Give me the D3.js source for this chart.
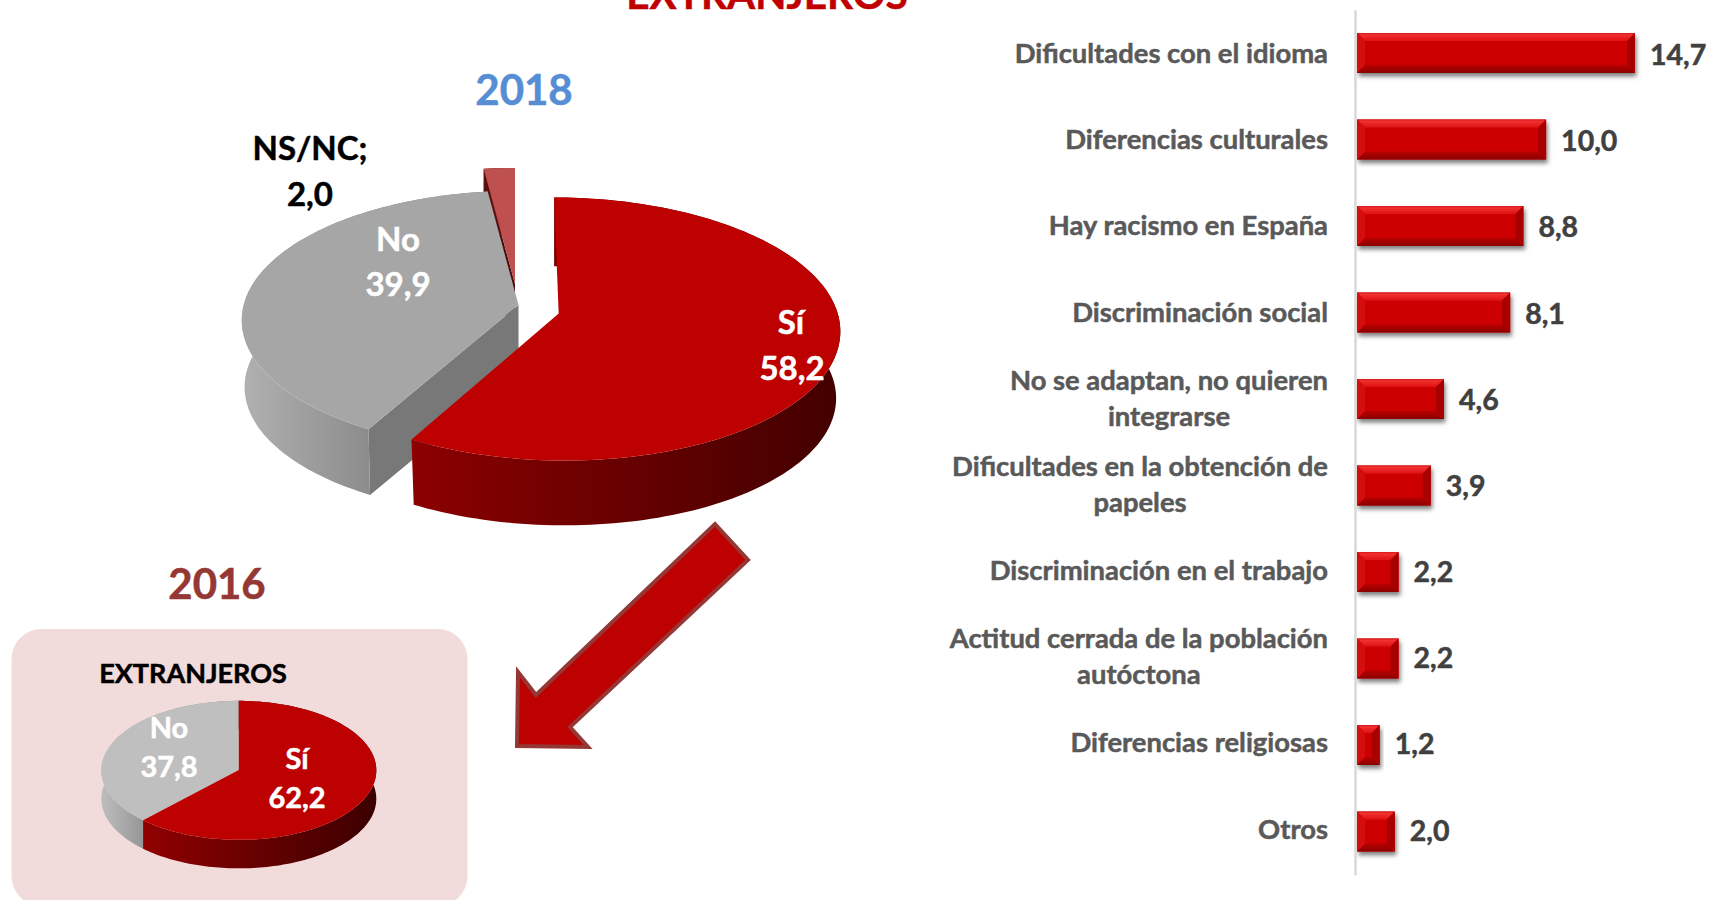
<!DOCTYPE html>
<html>
<head>
<meta charset="utf-8">
<script src="https://d3js.org/d3.v7.min.js"></script>
<style>
html, body { margin: 0; padding: 0; background: #fff; overflow: hidden; }
svg { display: block; }
text { font-family: Lato, "Open Sans", sans-serif; font-weight: 700; stroke-width: 0.5px; }
</style>
</head>
<body>
<div id="chart"></div>
<script>
// data
const pieLabels2018 = ["Sí", "No", "NS/NC"];
const pieValues2018 = [58.2, 39.9, 2.0];
const pieLabels2016 = ["Sí", "No"];
const pieValues2016 = [62.2, 37.8];
const barCategories = [
    ["Dificultades con el idioma"],
    ["Diferencias culturales"],
    ["Hay racismo en España"],
    ["Discriminación social"],
    ["No se adaptan, no quieren", "integrarse"],
    ["Dificultades en la obtención de", "papeles"],
    ["Discriminación en el trabajo"],
    ["Actitud cerrada de la población", "autóctona"],
    ["Diferencias religiosas"],
    ["Otros"]
];
const barValues = [14.7, 10.0, 8.8, 8.1, 4.6, 3.9, 2.2, 2.2, 1.2, 2.0];

const fmt = v => v.toFixed(1).replace(".", ",");

const svg = d3.select("#chart").append("svg")
    .attr("width", 1711)
    .attr("height", 900);
const defs = svg.append("defs");

function sideGradient(id, x0, x1, c0, c1) {
    const g = defs.append("linearGradient").attr("id", id)
        .attr("gradientUnits", "userSpaceOnUse")
        .attr("x1", x0).attr("x2", x1).attr("y1", 0).attr("y2", 0);
    g.append("stop").attr("offset", 0).attr("stop-color", c0);
    g.append("stop").attr("offset", 1).attr("stop-color", c1);
}

// tilted disc, k is the perspective squeeze of the far side
function projector(p, cx, cy, scale, skew) {
    return a => {
        const w = 1 + p.k * Math.cos(a);
        const dy = -scale * p.ry * Math.cos(a) / w;
        return [cx + scale * p.rx * Math.sin(a) / w + skew * dy, cy + dy];
    };
}

function arcPoints(project, a0, a1) {
    const n = Math.max(2, Math.ceil(Math.abs(a1 - a0) * 40));
    return d3.range(n + 1).map(i => project(a0 + (a1 - a0) * i / n));
}

function drawPie(g, slices, p) {
    const line = d3.line();
    // back to front
    slices.slice().reverse().forEach(s => {
        const skew = s.skew || 0;
        const topP = projector(p, s.cx, s.cy, s.scale || 1, skew);
        const botP = projector(p, s.cx, s.cy + p.depth, s.botScale || 1, skew);
        const rim = arcPoints(topP, s.a0, s.a1);
        const botRim = arcPoints(botP, s.a1, s.a0);
        // cut face towards the viewer
        if (s.cut) {
            g.append("path")
                .attr("d", line([[s.cx, s.cy], topP(s.a0), botP(s.a0), [s.cx, s.cy + p.depth]]) + "Z")
                .attr("fill", s.cut);
        }
        g.append("path")
            .attr("d", line(rim.concat(botRim)) + "Z")
            .attr("fill", s.side);
        g.append("path")
            .attr("d", line([[s.cx, s.cy]].concat(rim)) + "Z")
            .attr("fill", s.top);
    });
}

const pie = d3.pie().sort(null).startAngle(0).endAngle(2 * Math.PI);

// 2018 pie
const arcs2018 = pie(pieValues2018);
sideGradient("sideRed", 410, 830, "#8c0000", "#440000");
sideGradient("sideGrey", 245, 370, "#b0b0b0", "#8c8c8c");
sideGradient("sideRose", 486, 516, "#5a1010", "#5a1010");
const look2018 = [
    { cx: 558.7, cy: 313.5, top: "#bd0000", side: "url(#sideRed)", skew: 0.04, botScale: 0.985 },
    { cx: 518.5, cy: 305, top: "#a6a6a6", side: "url(#sideGrey)", cut: "#787878", scale: 0.985, botScale: 0.975 },
    { cx: 515, cy: 284, top: "#be5050", side: "url(#sideRose)", cut: "#4a0c0c" }
];
drawPie(svg.append("g"), arcs2018.map((d, i) => Object.assign({ a0: d.startAngle, a1: d.endAngle }, look2018[i])),
    { rx: 279, ry: 129.7, k: 0.118, depth: 67 });

// 2016 panel and pie
svg.append("rect")
    .attr("x", 11.5).attr("y", 629)
    .attr("width", 456).attr("height", 277)
    .attr("rx", 30).attr("ry", 30)
    .attr("fill", "#f2dcdb");

const arcs2016 = pie(pieValues2016);
sideGradient("sideRed16", 143, 376, "#900000", "#3c0000");
sideGradient("sideGrey16", 102, 143, "#bdbdbd", "#969696");
const look2016 = [
    { cx: 238.8, cy: 770, top: "#bd0000", side: "url(#sideRed16)" },
    { cx: 238.8, cy: 770, top: "#bfbfbf", side: "url(#sideGrey16)" }
];
drawPie(svg.append("g"), arcs2016.map((d, i) => Object.assign({ a0: d.startAngle, a1: d.endAngle }, look2016[i])),
    { rx: 137.5, ry: 69.5, k: 0.005, depth: 28.5 });

// arrow from the big pie down to the 2016 panel
svg.append("path")
    .attr("d", d3.line()([[715, 524], [748, 560], [570, 727], [588, 747], [517, 746], [518, 672], [536, 695]]) + "Z")
    .attr("fill", "#bd0000")
    .attr("stroke", "#953735")
    .attr("stroke-width", 4);

// pie and heading texts
function label(x, y, str, size, color) {
    svg.append("text")
        .attr("x", x).attr("y", y)
        .attr("text-anchor", "middle")
        .attr("font-size", size)
        .attr("fill", color)
        .attr("stroke", color)
        .text(str);
}
label(767, 9, "EXTRANJEROS", 40.5, "#c00000");
label(524, 105, "2018", 42, "#558ed5");
label(217, 599, "2016", 42, "#953735");
label(193, 683, "EXTRANJEROS", 27, "#000");

label(310, 160, pieLabels2018[2] + ";", 33, "#000");
label(310, 205.5, fmt(pieValues2018[2]), 33, "#000");
label(398, 251, pieLabels2018[1], 33, "#fff");
label(398, 296, fmt(pieValues2018[1]), 33, "#fff");
label(791, 333.5, pieLabels2018[0], 33, "#fff");
label(792, 380, fmt(pieValues2018[0]), 33, "#fff");

label(169, 738, pieLabels2016[1], 29, "#fff");
label(169, 777, fmt(pieValues2016[1]), 29, "#fff");
label(297, 769, pieLabels2016[0], 29, "#fff");
label(297, 808, fmt(pieValues2016[0]), 29, "#fff");

// bar chart
const x = d3.scaleLinear().domain([0, 14.7]).range([1357, 1635]);
const y = d3.scaleBand()
    .domain(d3.range(barValues.length))
    .range([9.75, 874.75])
    .paddingInner(0.5376)
    .paddingOuter(0.2688);
// the text rows run a little tighter than the bars
const catY = d3.scalePoint().domain(y.domain()).range([63, 838.5]);
const valY = d3.scalePoint().domain(y.domain()).range([65, 840.5]);

const shadow = defs.append("filter").attr("id", "barShadow")
    .attr("x", "-10%").attr("y", "-20%").attr("width", "125%").attr("height", "150%");
shadow.append("feDropShadow")
    .attr("dx", 1.5).attr("dy", 3.5)
    .attr("stdDeviation", 2.2)
    .attr("flood-color", "#000")
    .attr("flood-opacity", 0.5);

const topBevel = defs.append("linearGradient").attr("id", "topBevel")
    .attr("x1", 0).attr("x2", 0).attr("y1", 0).attr("y2", 1);
topBevel.append("stop").attr("offset", 0).attr("stop-color", "#d81a1a");
topBevel.append("stop").attr("offset", 0.25).attr("stop-color", "#f03030");
topBevel.append("stop").attr("offset", 1).attr("stop-color", "#e01010");
const botBevel = defs.append("linearGradient").attr("id", "botBevel")
    .attr("x1", 0).attr("x2", 0).attr("y1", 0).attr("y2", 1);
botBevel.append("stop").attr("offset", 0).attr("stop-color", "#b80000");
botBevel.append("stop").attr("offset", 1).attr("stop-color", "#8a0000");

const bevel = 8;
const line = d3.line();
const bar = svg.append("g")
    .selectAll("g")
    .data(barValues)
    .enter().append("g")
    .attr("filter", "url(#barShadow)");

bar.append("rect")
    .attr("x", x(0))
    .attr("y", (d, i) => y(i))
    .attr("width", d => x(d) - x(0))
    .attr("height", y.bandwidth())
    .attr("fill", "#cc0505");
bar.append("path")
    .attr("d", (d, i) => line([[x(0), y(i)], [x(d), y(i)], [x(d) - bevel, y(i) + bevel], [x(0) + bevel, y(i) + bevel]]) + "Z")
    .attr("fill", "url(#topBevel)");
bar.append("path")
    .attr("d", (d, i) => line([[x(0), y(i) + y.bandwidth()], [x(d), y(i) + y.bandwidth()], [x(d) - bevel, y(i) + y.bandwidth() - bevel], [x(0) + bevel, y(i) + y.bandwidth() - bevel]]) + "Z")
    .attr("fill", "url(#botBevel)");
bar.append("path")
    .attr("d", (d, i) => line([[x(d), y(i)], [x(d), y(i) + y.bandwidth()], [x(d) - bevel, y(i) + y.bandwidth() - bevel], [x(d) - bevel, y(i) + bevel]]) + "Z")
    .attr("fill", "#a80000");
bar.append("path")
    .attr("d", (d, i) => line([[x(0), y(i)], [x(0), y(i) + y.bandwidth()], [x(0) + bevel, y(i) + y.bandwidth() - bevel], [x(0) + bevel, y(i) + bevel]]) + "Z")
    .attr("fill", "#d40808");

svg.append("g")
    .selectAll("text")
    .data(barValues)
    .enter().append("text")
    .attr("x", d => x(d) + 15)
    .attr("y", (d, i) => valY(i))
    .attr("font-size", 28.5)
    .attr("fill", "#404040")
    .attr("stroke", "#404040")
    .text(fmt);

const axis = svg.append("g")
    .attr("transform", "translate(1355,0)")
    .call(d3.axisLeft(y).tickSize(0).tickSizeOuter(0).tickFormat(""));
axis.select(".domain")
    .attr("stroke", "#d9d9d9")
    .attr("stroke-width", 2.5);

// category labels: wrapped ones are centred under their first line
const catRight = 1328;
const catLine = 36;
const cat = svg.append("g")
    .selectAll("text")
    .data(barCategories)
    .enter().append("text")
    .attr("font-size", 27.4)
    .attr("fill", "#595959")
    .attr("stroke", "#595959");
cat.each(function(lines, i) {
    const el = d3.select(this);
    const first = el.append("tspan")
        .attr("x", catRight)
        .attr("y", catY(i) - (lines.length - 1) * catLine / 2)
        .attr("text-anchor", "end")
        .text(lines[0]);
    if (lines.length > 1) {
        const w = first.node().getComputedTextLength();
        el.append("tspan")
            .attr("x", catRight - w / 2)
            .attr("y", catY(i) + catLine / 2)
            .attr("text-anchor", "middle")
            .text(lines[1]);
    }
});
</script>
</body>
</html>
